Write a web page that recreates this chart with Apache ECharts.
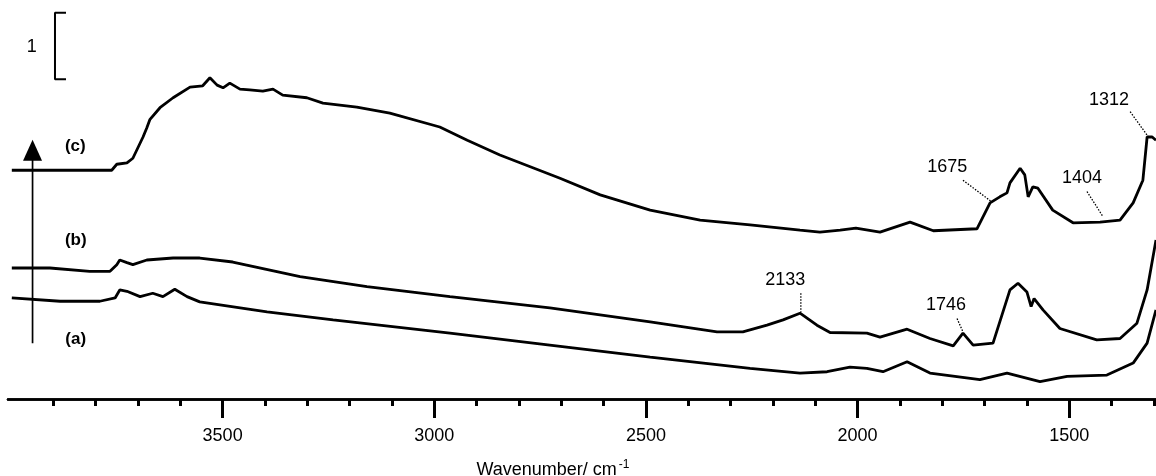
<!DOCTYPE html>
<html>
<head>
<meta charset="utf-8">
<script src="https://cdn.jsdelivr.net/npm/echarts@6/dist/echarts.min.js"></script>
<style>
html,body{margin:0;padding:0;background:#fff;}
#chart{width:1156px;height:476px;}
</style>
</head>
<body>
<div id="chart"></div>
<script>
// [wavenumber (cm-1), absorbance (offset)]
const traceA = [
  [3998,1.52],[3884,1.47],[3790,1.47],[3754,1.52],[3743,1.64],[3726,1.62],[3695,1.54],
  [3665,1.59],[3641,1.54],[3613,1.65],[3584,1.54],[3554,1.46],[3395,1.31],[3239,1.19],
  [2963,0.99],[2727,0.81],[2490,0.63],[2254,0.46],[2136,0.39],[2072,0.41],[2018,0.48],
  [1978,0.46],[1940,0.41],[1883,0.56],[1829,0.39],[1711,0.29],[1647,0.39],[1569,0.26],
  [1505,0.34],[1411,0.36],[1349,0.54],[1316,0.84],[1295,1.34]
];
const traceB = [
  [3998,1.97],[3908,1.97],[3814,1.92],[3766,1.92],[3750,2.02],[3743,2.09],[3726,2.05],
  [3712,2.02],[3679,2.09],[3617,2.12],[3554,2.12],[3476,2.06],[3317,1.84],[3159,1.69],
  [2963,1.54],[2727,1.37],[2490,1.16],[2332,1.01],[2271,1.01],[2214,1.11],[2176,1.19],
  [2136,1.29],[2096,1.11],[2065,1.00],[1978,0.99],[1947,0.93],[1883,1.05],[1829,0.91],
  [1774,0.80],[1751,0.99],[1727,0.81],[1680,0.84],[1640,1.64],[1621,1.74],[1600,1.61],
  [1590,1.39],[1583,1.51],[1562,1.34],[1522,1.06],[1435,0.89],[1380,0.91],[1340,1.14],
  [1316,1.64],[1295,2.39]
];
const traceC = [
  [3998,3.44],[3908,3.44],[3790,3.44],[3762,3.44],[3750,3.53],[3726,3.55],[3712,3.62],
  [3688,3.94],[3679,4.08],[3672,4.20],[3648,4.38],[3617,4.53],[3577,4.69],[3547,4.71],
  [3530,4.83],[3513,4.72],[3499,4.68],[3483,4.75],[3459,4.66],[3436,4.65],[3405,4.63],
  [3381,4.66],[3358,4.57],[3301,4.53],[3263,4.45],[3183,4.39],[3105,4.30],[2987,4.09],
  [2922,3.89],[2845,3.67],[2703,3.32],[2608,3.07],[2490,2.84],[2372,2.69],[2254,2.62],
  [2136,2.54],[2089,2.51],[2041,2.54],[2004,2.57],[1947,2.51],[1876,2.66],[1821,2.53],
  [1718,2.56],[1687,2.95],[1664,3.04],[1647,3.10],[1640,3.25],[1616,3.47],[1605,3.37],
  [1597,3.04],[1586,3.19],[1574,3.17],[1539,2.84],[1491,2.65],[1427,2.66],[1380,2.69],
  [1349,2.95],[1326,3.29],[1316,3.94],[1304,3.94],[1295,3.89]
];
const majorTicks = [3500,3000,2500,2000,1500];
const minorTicks = [3900,3800,3700,3600,3400,3300,3200,3100,2900,2800,2700,2600,2400,2300,2200,2100,1900,1800,1700,1600,1400,1300];
// peak annotations: label position [wn, A, text] and leader lines
const peakLabels = [
  [2171,1.79,'2133'],[1791,1.41,'1746'],[1788,3.49,'1675'],[1470,3.32,'1404'],[1406,4.50,'1312']
];
const leaders = [
  [[2134,1.59],[2134,1.31]],
  [[1765,1.21],[1751,1.01]],
  [[1751,3.29],[1682,2.96]],
  [[1458,3.12],[1420,2.74]],
  [[1356,4.32],[1314,3.95]]
];
const traceLabels = [[3847,0.90,'(a)'],[3847,2.39,'(b)'],[3848,3.80,'(c)']];
const scaleBar = [[3870,5.81],[3896,5.81],[3896,4.81],[3870,4.81]];
const scaleLabel = [[3951,5.30,'1']];
const arrowLine = [[3949,0.84],[3949,3.74]];

const FONT = 'Liberation Sans, Arial, Helvetica, sans-serif';
const INK = '#000';
const chart = echarts.init(document.getElementById('chart'));

const series = [];
[traceA, traceB, traceC].forEach((d, i) => {
  series.push({
    type: 'line', name: ['a','b','c'][i], data: d, showSymbol: false, smooth: false,
    lineStyle: {color: INK, width: 2.8}, z: 3, silent: true
  });
});
leaders.forEach(d => series.push({
  type: 'line', data: d, showSymbol: false,
  lineStyle: {color: INK, width: 1.3, type: [1.5, 1.5]}, silent: true
}));
series.push({
  type: 'line', data: scaleBar, showSymbol: false,
  lineStyle: {color: INK, width: 2}, silent: true
});
series.push({
  type: 'line',
  data: [
    {value: arrowLine[0], symbol: 'none'},
    {value: arrowLine[1], symbol: 'triangle', symbolSize: [19, 21]}
  ],
  showSymbol: true, showAllSymbol: true,
  itemStyle: {color: INK, opacity: 1},
  lineStyle: {color: INK, width: 1.7}, silent: true
});
const textSeries = (data, style) => ({
  type: 'scatter', data: data, symbol: 'circle', symbolSize: 0.01,
  itemStyle: {color: INK, opacity: 1},
  label: Object.assign({show: true, position: 'inside', formatter: p => p.data[2],
    color: INK, opacity: 1, textBorderWidth: 0, fontFamily: FONT}, style),
  silent: true, z: 5
});
series.push(textSeries(peakLabels, {fontSize: 18}));
series.push(textSeries(traceLabels, {fontSize: 17, fontWeight: 'bold'}));
series.push(textSeries(scaleLabel, {fontSize: 18}));

const baseX = {
  type: 'value', inverse: true, min: 1295, max: 4007, position: 'bottom',
  splitLine: {show: false},
  axisLine: {show: true, lineStyle: {color: INK, width: 2.5}}
};

chart.setOption({
  animation: false,
  backgroundColor: '#fff',
  grid: {left: 8, right: 0, top: 0, bottom: 77, containLabel: false, outerBoundsMode: 'none'},
  xAxis: [
    Object.assign({}, baseX, {
      axisTick: {show: true, customValues: majorTicks, length: 19, lineStyle: {color: INK, width: 3}},
      axisLabel: {show: true, customValues: majorTicks, margin: 28, fontSize: 18, color: INK,
        fontFamily: FONT, formatter: v => String(v)},
      name: '{a|Wavenumber/ cm}{s|-1}',
      nameLocation: 'middle', nameGap: 60,
      nameTextStyle: {
        fontFamily: FONT, color: INK, padding: [0, 58, 0, 0],
        rich: {
          a: {fontSize: 18, fontFamily: FONT, color: INK, lineHeight: 22},
          s: {fontSize: 12, fontFamily: FONT, color: INK, verticalAlign: 'top', lineHeight: 22, padding: [0, 0, 8, 2]}
        }
      }
    }),
    Object.assign({}, baseX, {
      axisTick: {show: true, customValues: minorTicks, length: 7, lineStyle: {color: INK, width: 3}},
      axisLabel: {show: false}
    })
  ],
  yAxis: {type: 'value', min: 0, max: 6, show: false},
  series: series
});
</script>
</body>
</html>
